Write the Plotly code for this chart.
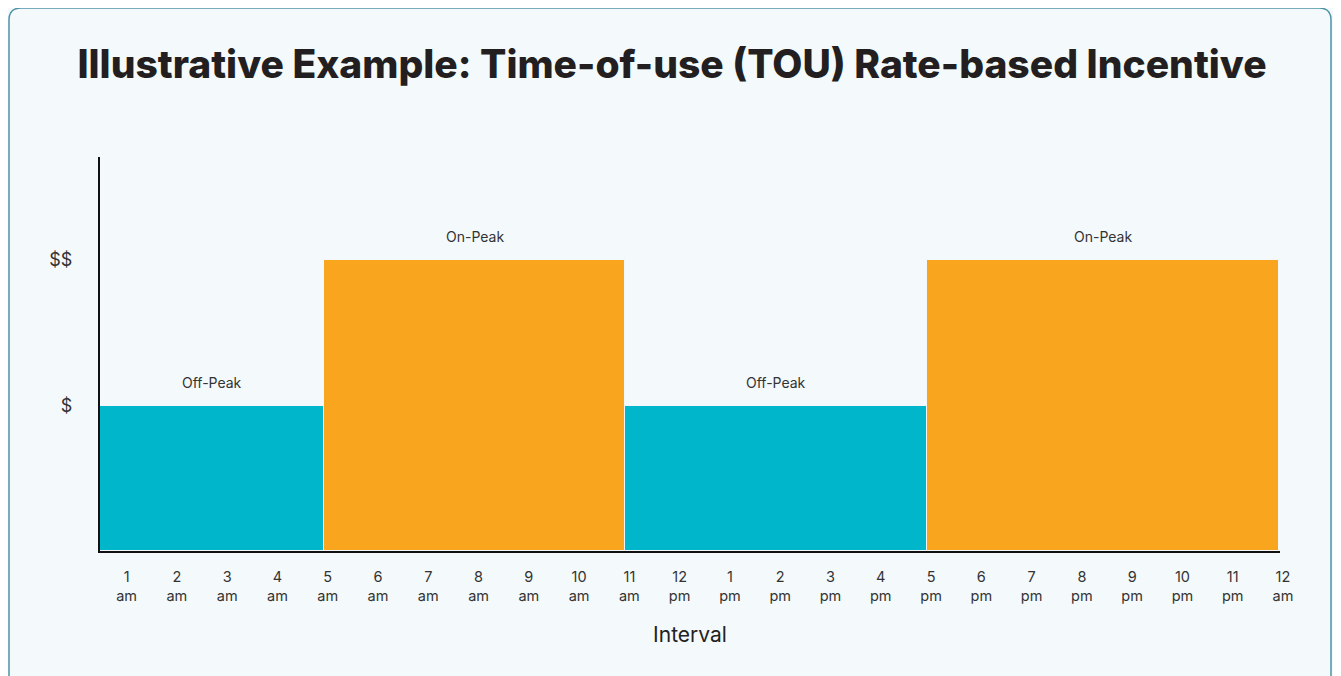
import plotly.graph_objects as go

# ---- data ----
hours = list(range(1, 25))
hour_labels = ["1<br>am", "2<br>am", "3<br>am", "4<br>am", "5<br>am", "6<br>am", "7<br>am",
               "8<br>am", "9<br>am", "10<br>am", "11<br>am", "12<br>pm", "1<br>pm", "2<br>pm",
               "3<br>pm", "4<br>pm", "5<br>pm", "6<br>pm", "7<br>pm", "8<br>pm", "9<br>pm",
               "10<br>pm", "11<br>pm", "12<br>am"]
period_names = ["Off-Peak", "On-Peak", "Off-Peak", "On-Peak"]
period_start = [0.55, 5, 11, 17]
period_end = [5, 11, 17, 24]
period_rate = [1, 2, 1, 2]
rate_ticks = [1, 2]
rate_labels = ["$", "$$"]

TEAL = "#00B6CB"
ORANGE = "#F9A51E"
colors = [TEAL if n == "Off-Peak" else ORANGE for n in period_names]

W, H = 1325, 668
L, R, T, B = 92, 53, 149, 125
PW, PH = W - L - R, H - T - B

fig = go.Figure()
fig.add_trace(go.Bar(
    x=period_start,
    y=period_rate,
    width=[e - s for s, e in zip(period_start, period_end)],
    offset=0,
    marker=dict(color=colors, line=dict(color="#F4F7F9", width=1)),
    hoverinfo="skip",
    showlegend=False,
))

for name, s, e, r in zip(period_names, period_start, period_end, period_rate):
    fig.add_annotation(
        x=(s + e) / 2, y=r, text=name, showarrow=False,
        yanchor="bottom", yshift=13,
        font=dict(family="Inter", size=14, color="#333333"),
    )

# card border (figure pixel coords -> paper coords of plot area)
x0, y0, x1, y1, rr = 1, 0, 1323, 720, 12
def px(x):
    return (x - L) / PW
def py(y):
    return (T + PH - y) / PH
path = (f"M {px(x0+rr)},{py(y0)} L {px(x1-rr)},{py(y0)} "
        f"Q {px(x1)},{py(y0)} {px(x1)},{py(y0+rr)} "
        f"L {px(x1)},{py(y1)} L {px(x0)},{py(y1)} L {px(x0)},{py(y0+rr)} "
        f"Q {px(x0)},{py(y0)} {px(x0+rr)},{py(y0)} Z")
fig.add_shape(type="path", path=path, xref="paper", yref="paper",
              line=dict(color="#4E93A6", width=1.5), fillcolor="rgba(0,0,0,0)", layer="below")

fig.update_layout(
    width=W, height=H,
    margin=dict(l=L, r=R, t=T, b=B),
    paper_bgcolor="#F4F9FC",
    plot_bgcolor="#F4F9FC",
    title=dict(
        text="Illustrative Example: Time-of-use (TOU) Rate-based Incentive",
        x=(672 - 8) / W, xanchor="center", y=1 - 56 / H, yanchor="middle",
        font=dict(family="Inter", size=39, color="#231F20", weight=800),
    ),
    bargap=0,
    xaxis=dict(
        range=[0.55, 24.02],
        tickmode="array", tickvals=hours, ticktext=hour_labels,
        showgrid=False, zeroline=False,
        showline=True, linecolor="#111111", linewidth=2,
        ticks="outside", ticklen=12, tickcolor="rgba(0,0,0,0)",
        ticklabelshift=4,
        tickfont=dict(family="Inter", size=14.5, color="#333333"),
        title=dict(text="Interval", font=dict(family="Inter", size=21, color="#222222"), standoff=24),
    ),
    yaxis=dict(
        range=[0, 2.708],
        tickmode="array", tickvals=rate_ticks, ticktext=rate_labels,
        showgrid=False, zeroline=False,
        showline=True, linecolor="#111111", linewidth=2,
        ticks="outside", ticklen=22, tickcolor="rgba(0,0,0,0)",
        tickfont=dict(family="Inter", size=18, color="#333333"),
    ),
)

fig.write_html("out.html")
